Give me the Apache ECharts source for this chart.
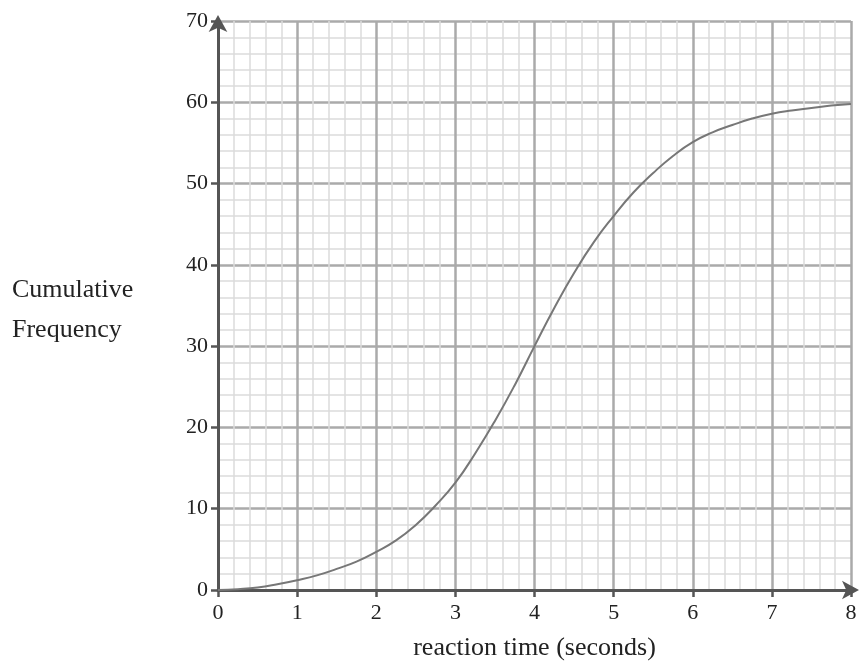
<!DOCTYPE html>
<html><head><meta charset="utf-8">
<script src="https://cdn.jsdelivr.net/npm/echarts@6/dist/echarts.min.js"></script>
<style>html,body{margin:0;padding:0;background:#fff}#c{width:861px;height:666px}</style>
</head><body><div id="c"></div>
<script>
var times = [0, 0.25, 0.5, 0.75, 1, 1.25, 1.5, 1.75, 2, 2.25, 2.5, 2.75, 3, 3.25, 3.5, 3.75, 4,
             4.25, 4.5, 4.75, 5, 5.25, 5.5, 5.75, 6, 6.25, 6.5, 6.75, 7, 7.25, 7.5, 7.75, 8];
var cumFreq = [0, 0.1, 0.3, 0.7, 1.2, 1.8, 2.6, 3.5, 4.7, 6.1, 8.0, 10.4, 13.2, 16.8, 20.8, 25.2, 30,
               34.7, 39, 42.8, 46, 48.9, 51.3, 53.4, 55.1, 56.3, 57.2, 58.0, 58.6, 59.0, 59.3, 59.6, 59.8];
var xName = 'reaction time (seconds)';
var yName = 'Cumulative\nFrequency';

var font = 'Liberation Serif';
var chart = echarts.init(document.getElementById('c'));
chart.setOption({
  animation: false,
  grid: {left: 218, right: 10, top: 21, bottom: 75, containLabel: false},
  xAxis: {
    type: 'value', min: 0, max: 8, interval: 1,
    name: xName, nameLocation: 'middle', nameGap: 45,
    nameTextStyle: {fontFamily: font, fontSize: 26, color: '#222'},
    axisLine: {show: true, onZero: false, symbol: ['none', 'arrow'], symbolSize: [14, 17], symbolOffset: [0, 8],
      lineStyle: {color: '#555', width: 3}},
    axisTick: {show: true, length: 7, lineStyle: {color: '#555', width: 2.5}},
    axisLabel: {fontFamily: font, fontSize: 22, color: '#222', margin: 12},
    splitLine: {show: true, lineStyle: {color: '#aaa', width: 2.5}},
    minorTick: {show: false, splitNumber: 5},
    minorSplitLine: {show: true, lineStyle: {color: '#dcdcdc', width: 1.5}}
  },
  yAxis: {
    type: 'value', min: 0, max: 70, interval: 10,
    axisLine: {show: true, onZero: false, symbol: ['none', 'arrow'], symbolSize: [14, 17], symbolOffset: [0, 6],
      lineStyle: {color: '#555', width: 3}},
    axisTick: {show: true, length: 7, lineStyle: {color: '#555', width: 2.5}},
    axisLabel: {fontFamily: font, fontSize: 22, color: '#222', margin: 10},
    splitLine: {show: true, lineStyle: {color: '#aaa', width: 2.5}},
    minorTick: {show: false, splitNumber: 5},
    minorSplitLine: {show: true, lineStyle: {color: '#dcdcdc', width: 1.5}}
  },
  graphic: [{
    type: 'text', left: 12, top: 270,
    style: {text: yName, fontFamily: font, fontSize: 26, fill: '#222', lineHeight: 40}
  }],
  series: [{
    type: 'line', data: times.map(function (t, i) { return [t, cumFreq[i]]; }),
    smooth: 0.5, showSymbol: false, symbol: 'none',
    lineStyle: {color: '#777', width: 2}
  }]
});
</script></body></html>
